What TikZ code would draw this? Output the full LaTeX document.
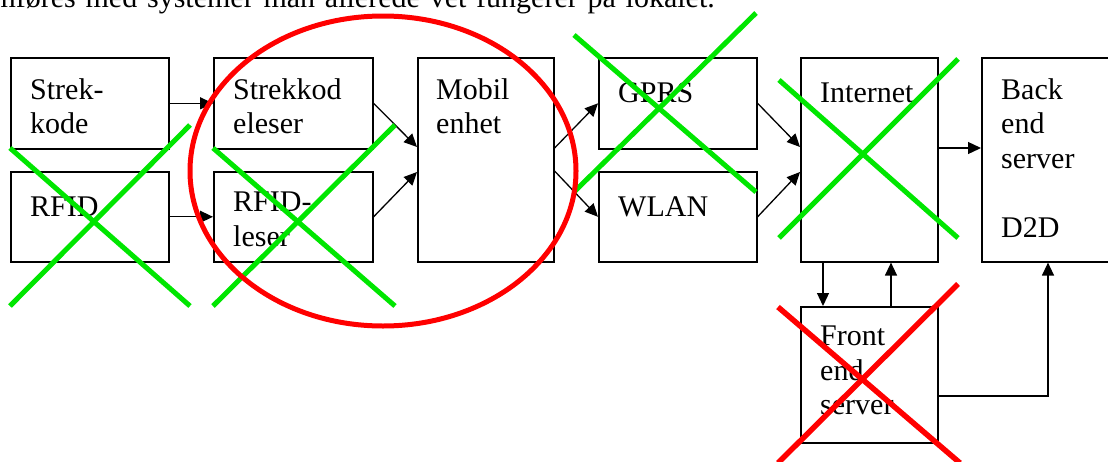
\documentclass[tikz,border=0pt]{standalone}
\usepackage{fontspec}
\setmainfont{Liberation Serif}
\usetikzlibrary{arrows.meta, calc}

\definecolor{kryssgronn}{RGB}{0,230,0}
\tikzset{
  boks/.style={draw, line width=1.6pt, inner sep=0pt, anchor=north west},
  tekst/.style={anchor=north west, inner sep=0pt, align=left,
                font=\fontsize{30}{34.5}\selectfont, execute at begin node=\strut},
  pil/.style={-{Triangle[length=13pt,width=12pt]}, line width=1.3pt},
  gkryss/.style={draw=kryssgronn, line width=5pt},
  rkryss/.style={draw=red, line width=5.5pt}
}

\begin{document}
\begin{tikzpicture}[x=1pt, y=-1pt] % 像素坐标, y 向下
  \path[use as bounding box, clip] (0,0) rectangle (1108,461);

  % 上面一行文字 (被裁掉一半, 两端对齐的空格)
  \node[anchor=base east, inner sep=0pt, font=\fontsize{30}{34.5}\selectfont]
       (topptekst) at (715,7)
       {\spaceskip=9.8pt gjennomføres med systemer man allerede vet fungerer på lokalet.};

  % 方框
  \node[boks, minimum width=158pt, minimum height=91pt]  (strek)    at (10,57)  {};
  \node[boks, minimum width=158pt, minimum height=90pt]  (rfid)     at (10,171) {};
  \node[boks, minimum width=159pt, minimum height=91pt]  (leser1)   at (213,57) {};
  \node[boks, minimum width=159pt, minimum height=90pt]  (leser2)   at (213,171) {};
  \node[boks, minimum width=136pt, minimum height=204pt] (mobil)    at (417,57) {};
  \node[boks, minimum width=158pt, minimum height=91pt]  (gprs)     at (598,57) {};
  \node[boks, minimum width=158pt, minimum height=90pt]  (wlan)     at (598,171) {};
  \node[boks, minimum width=137pt, minimum height=204pt] (internet) at (800,57) {};
  \node[boks, minimum width=200pt, minimum height=204pt] (backend)  at (981,57) {};
  \node[boks, minimum width=137pt, minimum height=136pt] (frontend) at (800,306) {};

  % 框内文字
  \node[tekst] (tStrek)    at ($(strek.north west)+(20,21)$)    {Strek-\\kode};
  \node[tekst] (tRfid)     at ($(rfid.north west)+(20,21)$)     {RFID};
  \node[tekst] (tLeser1)   at ($(leser1.north west)+(20,21)$)   {Strekkod\\eleser};
  \node[tekst] (tLeser2)   at ($(leser2.north west)+(20,21)$)   {RFID-\\leser};
  \node[tekst] (tMobil)    at ($(mobil.north west)+(19,21)$)    {Mobil\\enhet};
  \node[tekst] (tGprs)     at ($(gprs.north west)+(20,21)$)     {GPRS};
  \node[tekst] (tWlan)     at ($(wlan.north west)+(20,21)$)     {WLAN};
  \node[tekst] (tInternet) at ($(internet.north west)+(20,21)$) {Internet};
  \node[tekst] (tBackend)  at ($(backend.north west)+(20,21)$)  {Back\\end\\server\\\\D2D};
  \node[tekst] (tFrontend) at ($(frontend.north west)+(20,20)$) {Front\\end\\server};

  % 箭头
  \draw[pil] (strek.east) -- (leser1.west);
  \draw[pil] (rfid.east) -- (leser2.west);
  \draw[pil] (leser1.east) -- ($(mobil.north west)+(0,90)$);
  \draw[pil] (leser2.east) -- ($(mobil.north west)+(0,115)$);
  \draw[pil] ($(mobil.north east)+(0,91)$) -- (gprs.west);
  \draw[pil] ($(mobil.north east)+(0,114)$) -- (wlan.west);
  \draw[pil] (gprs.east) -- ($(internet.north west)+(0,90)$);
  \draw[pil] (wlan.east) -- ($(internet.north west)+(0,115)$);
  \draw[pil] ($(internet.north east)+(0,91)$) -- ($(backend.north west)+(0,91)$);
  \draw[pil] ($(internet.south west)+(23,0)$) -- ($(frontend.north west)+(23,0)$);
  \draw[pil] ($(frontend.north west)+(91,0)$) -- ($(internet.south west)+(91,0)$);
  \draw[pil] ($(frontend.north east)+(0,90)$) -| ($(backend.south west)+(67,0)$);

  % 绿色叉
  \foreach \xa/\ya/\xb/\yb in {10/148/190/306, 10/306/190/125,
                               213/148/395/306, 213/306/395/125,
                               574/35/756/192, 574/192/756/13,
                               779/80/958/238, 779/238/958/59}
    \draw[gkryss] (\xa,\ya) -- (\xb,\yb);

  % 红色叉和椭圆
  \draw[rkryss] (778,307) -- (960,463);
  \draw[rkryss] (778,463) -- (958,284);
  \draw[draw=red, line width=5pt] (383,171) ellipse [x radius=193, y radius=155];
\end{tikzpicture}
\end{document}
